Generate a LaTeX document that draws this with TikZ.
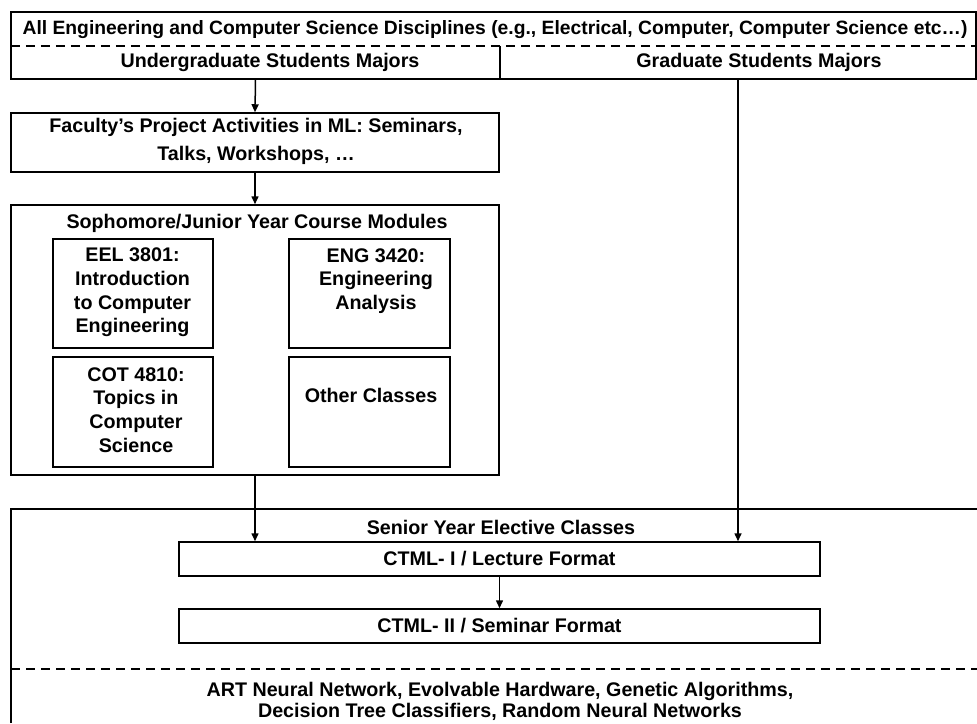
\documentclass[tikz,border=0pt]{standalone}
\usepackage{fontspec}
\setmainfont{Liberation Sans}
\usetikzlibrary{arrows.meta}
\tikzset{
  box/.style={draw, line width=1.5pt, rectangle, inner sep=0pt},
  cell/.style={rectangle, inner sep=0pt},
  lbl/.style={inner sep=0pt, align=center, font=\bfseries\fontsize{19.7}{23.6}\selectfont},
  arr/.style={line width=1.5pt, -{Triangle[length=8pt,width=7pt]}},
  dsh/.style={line width=1.5pt, dash pattern=on 9pt off 6pt},
  ln/.style={line width=1.5pt}
}
\begin{document}
\begin{tikzpicture}[x=1pt,y=-1pt]
\useasboundingbox (0,0) rectangle (977,723);
% top header
\node[cell, minimum width=965pt, minimum height=34pt] (all) at (493.5,29) {};
\node[cell, minimum width=489pt, minimum height=33pt] (ug) at (255.5,62.5) {};
\node[cell, minimum width=476pt, minimum height=33pt] (grad) at (738,62.5) {};
\draw[ln] (all.north west) rectangle (grad.south east);
\draw[dsh] (all.south west) -- (all.south east);
\draw[ln] (ug.north east) -- (ug.south east);
\node[lbl, font=\bfseries\fontsize{19.3}{23.6}\selectfont] (alltxt) at (495,30) {All Engineering and Computer Science Disciplines (e.g., Electrical, Computer, Computer Science etc…)};
\node[lbl] (ugtxt) at (270,62) {Undergraduate Students Majors};
\node[lbl] (gradtxt) at (759,62) {Graduate Students Majors};
% faculty box
\node[box, minimum width=488pt, minimum height=59pt] (fac) at (255,142.5) {};
\node[lbl, font=\bfseries\fontsize{19.7}{28}\selectfont] (factxt) at (256,141) {Faculty’s Project Activities in ML: Seminars,\\Talks, Workshops, …};
% sophomore box
\node[box, minimum width=488pt, minimum height=270pt] (soph) at (255,340) {};
\node[lbl] (sophtxt) at (257,223) {Sophomore/Junior Year Course Modules};
\node[box, minimum width=160pt, minimum height=109pt] (eel) at (133,293.5) {};
\node[box, minimum width=161pt, minimum height=109pt] (eng) at (369.5,293.5) {};
\node[box, minimum width=160pt, minimum height=110pt] (cot) at (133,412) {};
\node[box, minimum width=161pt, minimum height=110pt] (oth) at (369.5,412) {};
\node[lbl] (eeltxt) at (132.5,292.5) {EEL 3801:\\Introduction\\to Computer\\Engineering};
\node[lbl] (engtxt) at (376,281) {ENG 3420:\\Engineering\\Analysis};
\node[lbl] (cottxt) at (136,410) {COT 4810:\\Topics in\\Computer\\Science};
\node[lbl] (othtxt) at (371,395) {Other Classes};
% senior box
\coordinate (sbl) at (11,723);
\coordinate (stl) at (11,509);
\coordinate (str) at (977,509);
\draw[ln] (sbl) -- (stl) -- (str);
\node[lbl] (sentxt) at (501,527) {Senior Year Elective Classes};
\node[box, minimum width=641pt, minimum height=34pt] (c1) at (499.5,559) {};
\node[lbl] (c1txt) at (499.5,559) {CTML- I / Lecture Format};
\node[box, minimum width=641pt, minimum height=34pt] (c2) at (499.5,626) {};
\node[lbl] (c2txt) at (499.5,626) {CTML- II / Seminar Format};
\coordinate (dl) at (11,669);
\coordinate (dr) at (977,669);
\draw[dsh] (dl) -- (dr);
\node[lbl, font=\bfseries\fontsize{19.7}{21}\selectfont] (bottxt) at (500,701) {ART Neural Network, Evolvable Hardware, Genetic Algorithms,\\Decision Tree Classifiers, Random Neural Networks};
% arrows
\draw[arr] (ug.south) -- (fac.north);
\draw[arr] (fac.south) -- (soph.north);
\draw[arr] (soph.south) -- (soph.south |- c1.north);
\draw[arr] (grad.south) -- (grad.south |- c1.north);
\draw[arr] (c1.south) -- (c2.north);
\end{tikzpicture}
\end{document}
